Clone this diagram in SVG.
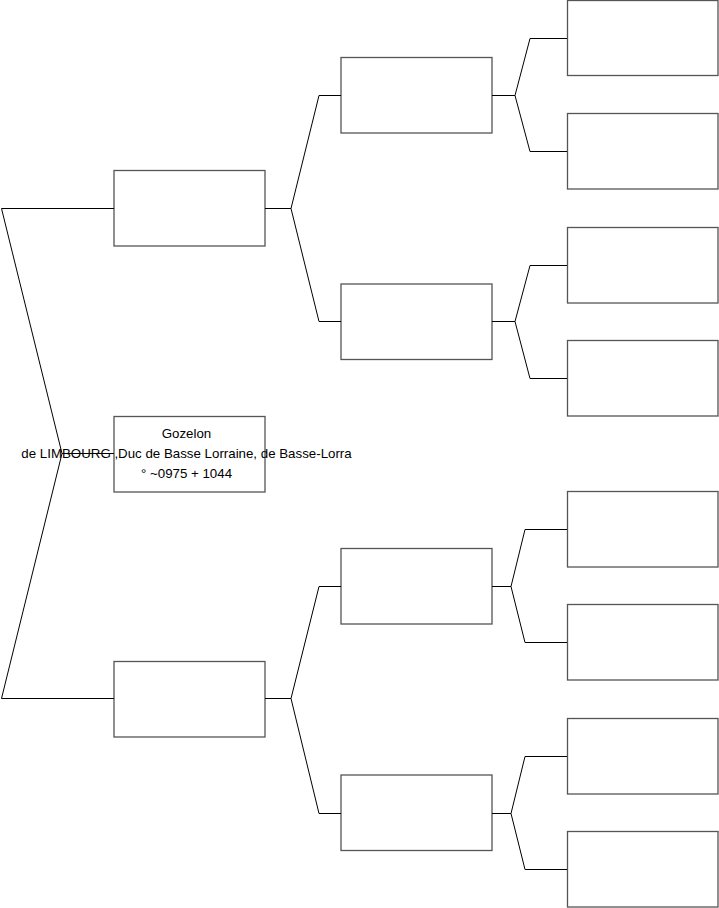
<svg xmlns="http://www.w3.org/2000/svg" width="719" height="908" viewBox="0 0 719 908">
<style>
.box{fill:#fff;stroke:#555;stroke-width:1.3}
.ln{fill:none;stroke:#000;stroke-width:1}
text{font-family:"Liberation Sans",Arial,sans-serif;font-size:13.3px;fill:#000;text-anchor:middle}
</style>
<rect width="719" height="908" fill="#fff"/>
<g id="n1"><rect class="box" x="114" y="170.5" width="151" height="75.5"/></g>
<g id="n2"><rect class="box" x="114" y="661.5" width="151" height="75.5"/></g>
<g id="n11"><rect class="box" x="341" y="57.5" width="151" height="75.5"/></g>
<g id="n12"><rect class="box" x="341" y="284" width="151" height="75.5"/></g>
<g id="n21"><rect class="box" x="341" y="548.5" width="151" height="75.5"/></g>
<g id="n22"><rect class="box" x="341" y="775" width="151" height="75.5"/></g>
<g id="n111"><rect class="box" x="567.5" y="0.5" width="150.5" height="75"/></g>
<g id="n112"><rect class="box" x="567.5" y="113.5" width="150.5" height="75.5"/></g>
<g id="n121"><rect class="box" x="567.5" y="227.5" width="150.5" height="75.5"/></g>
<g id="n122"><rect class="box" x="567.5" y="340.5" width="150.5" height="75.5"/></g>
<g id="n211"><rect class="box" x="567.5" y="491.5" width="150.5" height="75.5"/></g>
<g id="n212"><rect class="box" x="567.5" y="604.5" width="150.5" height="75.5"/></g>
<g id="n221"><rect class="box" x="567.5" y="718.5" width="150.5" height="75.5"/></g>
<g id="n222"><rect class="box" x="567.5" y="831.5" width="150.5" height="75.5"/></g>
<g id="n0"><rect class="box" x="114" y="416.5" width="151" height="75.5"/>
<text x="186.5" y="438">Gozelon</text>
<text x="186.5" y="458">de LIMBOURG ,Duc de Basse Lorraine, de Basse-Lorra</text>
<text x="186.5" y="478">° ~0975 + 1044</text>
</g>
<g id="connectors">
<polyline class="ln" points="114,208.5 1.5,208.5 62,453.5 1.5,698.5 114,698.5"/>
<line class="ln" x1="62" y1="453.5" x2="114" y2="453.5"/>
<polyline class="ln" points="341,95.5 319,95.5 291,208.5 319,321.5 341,321.5"/>
<line class="ln" x1="265" y1="208.5" x2="291" y2="208.5"/>
<polyline class="ln" points="341,586.5 319,586.5 291,698.5 319,813.5 341,813.5"/>
<line class="ln" x1="265" y1="698.5" x2="291" y2="698.5"/>
<polyline class="ln" points="567,38.5 530,38.5 515,95.5 530,151.5 567,151.5"/>
<line class="ln" x1="492" y1="95.5" x2="515" y2="95.5"/>
<polyline class="ln" points="567,265.5 530,265.5 515,321.5 530,378.5 567,378.5"/>
<line class="ln" x1="492" y1="321.5" x2="515" y2="321.5"/>
<polyline class="ln" points="567,529.5 525,529.5 511,586.5 525,642.5 567,642.5"/>
<line class="ln" x1="492" y1="586.5" x2="511" y2="586.5"/>
<polyline class="ln" points="567,756.5 525,756.5 511,813.5 525,869.5 567,869.5"/>
<line class="ln" x1="492" y1="813.5" x2="511" y2="813.5"/>
</g>
</svg>
